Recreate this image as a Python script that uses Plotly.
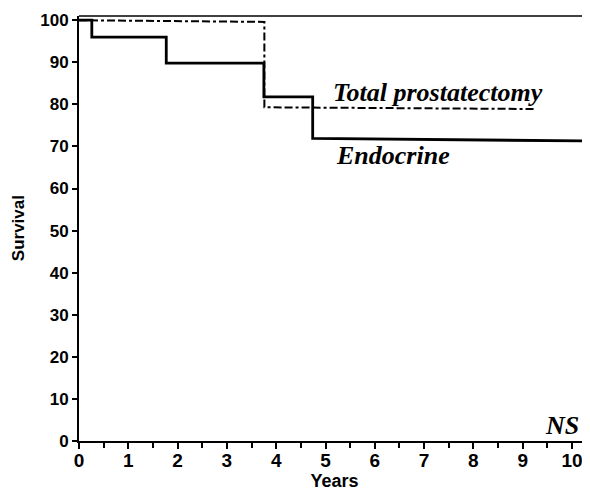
'''
    Kaplan-Meier style survival curves: endocrine vs total prostatectomy.
'''
import plotly.graph_objects as go

# step curves (years, survival %)
endocrine_years = [0, 0.26, 0.26, 1.77, 1.77, 3.75, 3.75, 4.74, 4.74, 10.37]
endocrine_surv = [100, 100, 96, 96, 89.8, 89.8, 81.8, 81.8, 71.9, 71.3]

prostatectomy_years = [0, 3.76, 3.76, 9.25]
prostatectomy_surv = [100, 99.6, 79.3, 78.9]

x_ticks = list(range(0, 11))
y_ticks = list(range(0, 101, 10))

SANS = "Liberation Sans"
SERIF = "Liberation Serif"

fig = go.Figure()

fig.add_trace(go.Scatter(
    x=endocrine_years, y=endocrine_surv,
    mode="lines", line=dict(color="black", width=2.8),
    name="Endocrine",
))
fig.add_trace(go.Scatter(
    x=prostatectomy_years, y=prostatectomy_surv,
    mode="lines", line=dict(color="black", width=2, dash="8px,3px,8px,3px,3px,3px"),
    name="Total prostatectomy",
))

# top frame line
fig.add_shape(
    type="line", xref="paper", yref="paper",
    x0=0, x1=1, y0=1, y1=1,
    line=dict(color="black", width=1.5),
)

label_font = dict(family=SERIF, size=26, color="black", weight="bold", style="italic")
fig.add_annotation(x=5.12, y=82.9, text="Total prostatectomy", showarrow=False,
                   xanchor="left", yanchor="middle", font=label_font)
fig.add_annotation(x=5.17, y=67.9, text="Endocrine", showarrow=False,
                   xanchor="left", yanchor="middle", font=label_font)
fig.add_annotation(x=10.18, y=3.8, text="NS", showarrow=False,
                   xanchor="right", yanchor="middle", font=label_font)

# y-axis title placed by hand so it sits near the left edge
fig.add_annotation(xref="paper", yref="paper", x=-0.118, y=0.5, text="Survival",
                   textangle=-90, showarrow=False, xanchor="center", yanchor="middle",
                   font=dict(family=SANS, size=17, color="black", weight="bold"))

fig.update_layout(
    width=582, height=484,
    margin=dict(l=71, r=0, t=8, b=51),
    plot_bgcolor="white", paper_bgcolor="white",
    showlegend=False,
    xaxis=dict(
        range=[0, 10.365], tickvals=x_ticks, ticks="outside", ticklen=6,
        tickwidth=2, tickcolor="black", showgrid=False, zeroline=False,
        showline=True, linecolor="black", linewidth=2,
        tickfont=dict(family=SANS, size=19, color="black", weight="bold"),
        ticklabelstandoff=-5,
        minor=dict(ticks="outside", dtick=0.5, ticklen=5, tickwidth=2, tickcolor="black",
                   showgrid=False),
        title=dict(text="Years", font=dict(family=SANS, size=18, color="black", weight="bold"),
                   standoff=2),
    ),
    yaxis=dict(
        range=[0, 101], tickvals=y_ticks, ticks="outside", ticklen=5,
        tickwidth=2, tickcolor="black", showgrid=False, zeroline=False,
        showline=True, linecolor="black", linewidth=2,
        tickfont=dict(family=SANS, size=17, color="black", weight="bold"),
    ),
)

fig.write_html("out.html")
